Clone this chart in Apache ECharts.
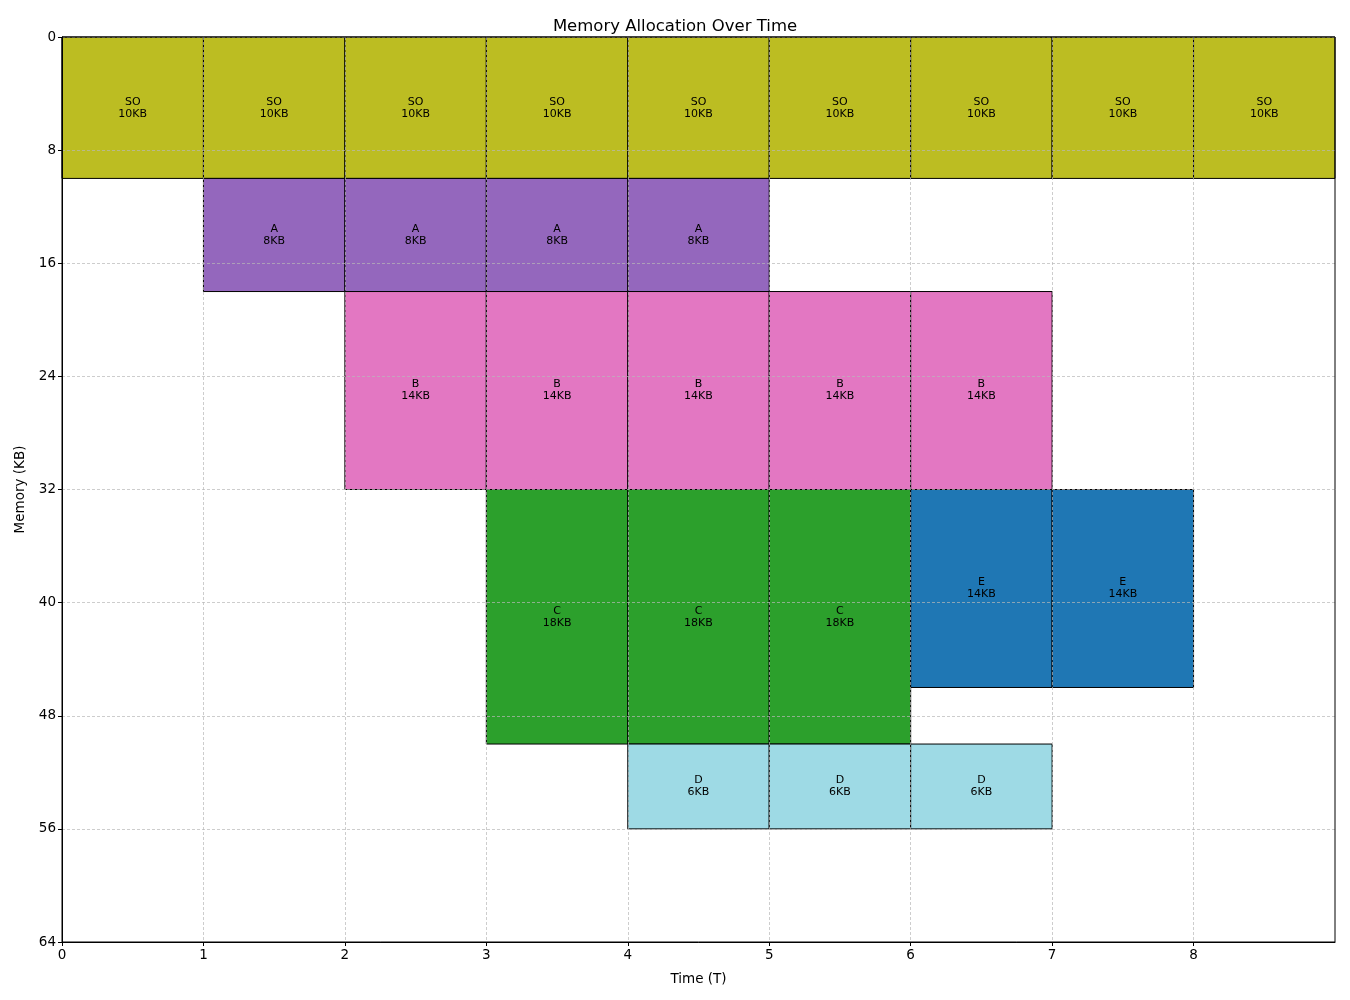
<!DOCTYPE html>
<html><head><meta charset="utf-8">
<script src="https://cdn.jsdelivr.net/npm/echarts@6/dist/echarts.min.js"></script>
<style>html,body{margin:0;padding:0;background:#fff}#c{width:1350px;height:1000px}</style>
</head><body><div id="c"></div>
<script>
const processes = ['SO', 'A', 'B', 'C', 'D', 'E'];
const sizesKB = [10, 8, 14, 18, 6, 14];
const startAddr = [0, 10, 18, 32, 50, 32];
const startTime = [0, 1, 2, 3, 4, 6];
const endTime = [9, 5, 7, 6, 7, 8];
const colors = ['#bcbd22', '#9467bd', '#e377c2', '#2ca02c', '#9edae5', '#1f77b4'];
const yTicks = [0, 8, 16, 24, 32, 40, 48, 56, 64];
const xTicks = [0, 1, 2, 3, 4, 5, 6, 7, 8];

const cells = [];
processes.forEach((p, i) => {
  for (let t = startTime[i]; t < endTime[i]; t++) {
    cells.push({ value: [t, startAddr[i], sizesKB[i], i] });
  }
});

const font = 'DejaVu Sans';
const chart = echarts.init(document.getElementById('c'), null, { renderer: 'canvas' });
chart.setOption({
  animation: false,
  backgroundColor: '#fff',
  title: {
    text: 'Memory Allocation Over Time', left: 'center', top: 13,
    textStyle: { fontFamily: font, fontSize: 16.5, fontWeight: 'normal', color: '#000' }
  },
  grid: { left: 62, right: 15, top: 37, bottom: 58, show: true, borderColor: '#000', borderWidth: 1, z: 5 },
  xAxis: {
    type: 'value', min: 0, max: 9, interval: 1, z: 4,
    name: 'Time (T)', nameLocation: 'middle', nameGap: 30,
    nameTextStyle: { fontFamily: font, fontSize: 13.5, color: '#000' },
    axisLine: { show: true, onZero: false, lineStyle: { color: '#000', width: 1 } },
    axisTick: { show: true, length: 4, customValues: xTicks, lineStyle: { color: '#000' } },
    axisLabel: { fontFamily: font, fontSize: 13.5, color: '#000', margin: 6, customValues: xTicks,
      formatter: v => xTicks.includes(v) ? String(v) : '' },
    splitLine: { show: true, lineStyle: { color: '#b8b8b8', type: [3, 2], width: 0.7 } }
  },
  yAxis: {
    type: 'value', min: 0, max: 64, interval: 8, inverse: true, z: 4,
    name: 'Memory (KB)', nameLocation: 'middle', nameGap: 34, nameRotate: 90,
    nameTextStyle: { fontFamily: font, fontSize: 13.5, color: '#000' },
    axisLine: { show: true, onZero: false, lineStyle: { color: '#000', width: 1 } },
    axisTick: { show: true, length: 4, lineStyle: { color: '#000' } },
    axisLabel: { fontFamily: font, fontSize: 13.5, color: '#000', margin: 6,
      formatter: v => yTicks.includes(v) ? String(v) : '' },
    splitLine: { show: true, lineStyle: { color: '#b8b8b8', type: [3, 2], width: 0.7 } }
  },
  series: [{
    type: 'custom', z: 2,
    data: cells,
    renderItem: function (params, api) {
      const t = api.value(0), s = api.value(1), sz = api.value(2), idx = api.value(3);
      const p1 = api.coord([t, s]);
      const p2 = api.coord([t + 1, s + sz]);
      const x = Math.min(p1[0], p2[0]), y = Math.min(p1[1], p2[1]);
      const w = Math.abs(p2[0] - p1[0]), h = Math.abs(p2[1] - p1[1]);
      return {
        type: 'group',
        children: [{
          type: 'rect',
          shape: { x: x, y: y, width: w, height: h },
          style: { fill: colors[idx], stroke: '#000', lineWidth: 1 }
        }, {
          type: 'text',
          style: {
            x: x + w / 2, y: y + h / 2,
            text: processes[idx] + '\n' + sz + 'KB',
            fill: '#000', font: '11px "DejaVu Sans"',
            align: 'center', verticalAlign: 'middle', lineHeight: 12
          },
          z2: 10
        }]
      };
    }
  }]
});
</script></body></html>
